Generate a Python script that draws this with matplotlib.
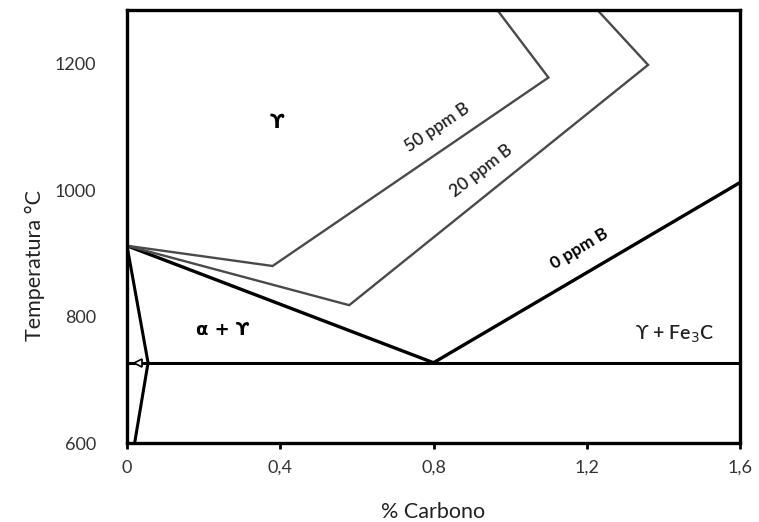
import matplotlib
matplotlib.use("Agg")
import matplotlib.pyplot as plt

plt.rcParams["font.family"] = ["Lato", "DejaVu Sans"]

# Boundary lines of the Fe-C diagram (% C, temperature in degrees C)
c_eutectoid = [0.0, 1.6]
t_eutectoid = [727, 727]

c_0ppm = [0.0, 0.8, 1.6]
t_0ppm = [912, 727, 1012]

c_20ppm = [0.0, 0.58, 1.36, 1.22]
t_20ppm = [912, 818, 1198, 1290]

c_50ppm = [0.0, 0.38, 1.10, 0.96]
t_50ppm = [912, 880, 1178, 1290]

c_ferrite = [0.0, 0.055, 0.02]
t_ferrite = [912, 727, 600]

x_ticks = [0, 0.4, 0.8, 1.2, 1.6]
x_ticklabels = ["0", "0,4", "0,8", "1,2", "1,6"]
y_ticks = [600, 800, 1000, 1200]
y_ticklabels = ["600", "800", "1000", "1200"]

fig = plt.figure(figsize=(7.59, 5.22), dpi=100)
ax = fig.add_axes([0.1673, 0.1513, 0.8077, 0.8297])

ax.plot(c_eutectoid, t_eutectoid, color="black", lw=2.2, solid_capstyle="butt")
ax.plot(c_0ppm, t_0ppm, color="black", lw=2.4, solid_joinstyle="miter")
ax.plot(c_20ppm, t_20ppm, color="#4a4a4a", lw=1.7, solid_joinstyle="miter")
ax.plot(c_50ppm, t_50ppm, color="#4a4a4a", lw=1.7, solid_joinstyle="miter")
ax.plot(c_ferrite, t_ferrite, color="black", lw=2.2, solid_joinstyle="miter")
ax.plot([0.03], [727], marker="<", ms=6, mfc="white", mec="black", mew=1.2)

ax.set_xlim(0, 1.6)
ax.set_ylim(600, 1285)

# phase region labels
ax.text(0.39, 1107, "ϒ", fontsize=14, fontweight="bold", ha="center", va="center",
        family=["DejaVu Sans"])
ax.text(0.25, 778, "α + ϒ", fontsize=13, fontweight="bold", ha="center", va="center",
        family=["DejaVu Sans"])
ax.text(1.43, 772, "ϒ + Fe$_3$C", fontsize=14, ha="center", va="center",
        color="#222222", fontweight="semibold")

# curve labels along the lines
ax.text(0.81, 1099, "50 ppm B", fontsize=12.5, rotation=34, ha="center", va="center",
        rotation_mode="anchor", color="#222222", fontweight="semibold")
ax.text(0.925, 1031, "20 ppm B", fontsize=12.5, rotation=38, ha="center", va="center",
        rotation_mode="anchor", color="#222222", fontweight="semibold")
ax.text(1.18, 907, "0 ppm B", fontsize=12.5, fontweight="bold", rotation=31,
        ha="center", va="center", rotation_mode="anchor")

ax.set_xticks(x_ticks)
ax.set_xticklabels(x_ticklabels)
ax.set_yticks(y_ticks)
ax.set_yticklabels(y_ticklabels)
ax.tick_params(axis="x", length=4, width=2, direction="out", pad=8,
               labelsize=13, labelcolor="#333333")
ax.tick_params(axis="y", length=0, pad=22, labelsize=13, labelcolor="#333333")

for spine in ax.spines.values():
    spine.set_linewidth(2.4)
    spine.set_color("black")

ax.set_xlabel("% Carbono", fontsize=15.5, color="#222222", va="center")
ax.set_ylabel("Temperatura °C", fontsize=15.5, color="#222222", va="center")
ax.xaxis.set_label_coords(0.5, -0.16)
ax.yaxis.set_label_coords(-0.15, 0.41)

fig.savefig("out.png", dpi=100)
